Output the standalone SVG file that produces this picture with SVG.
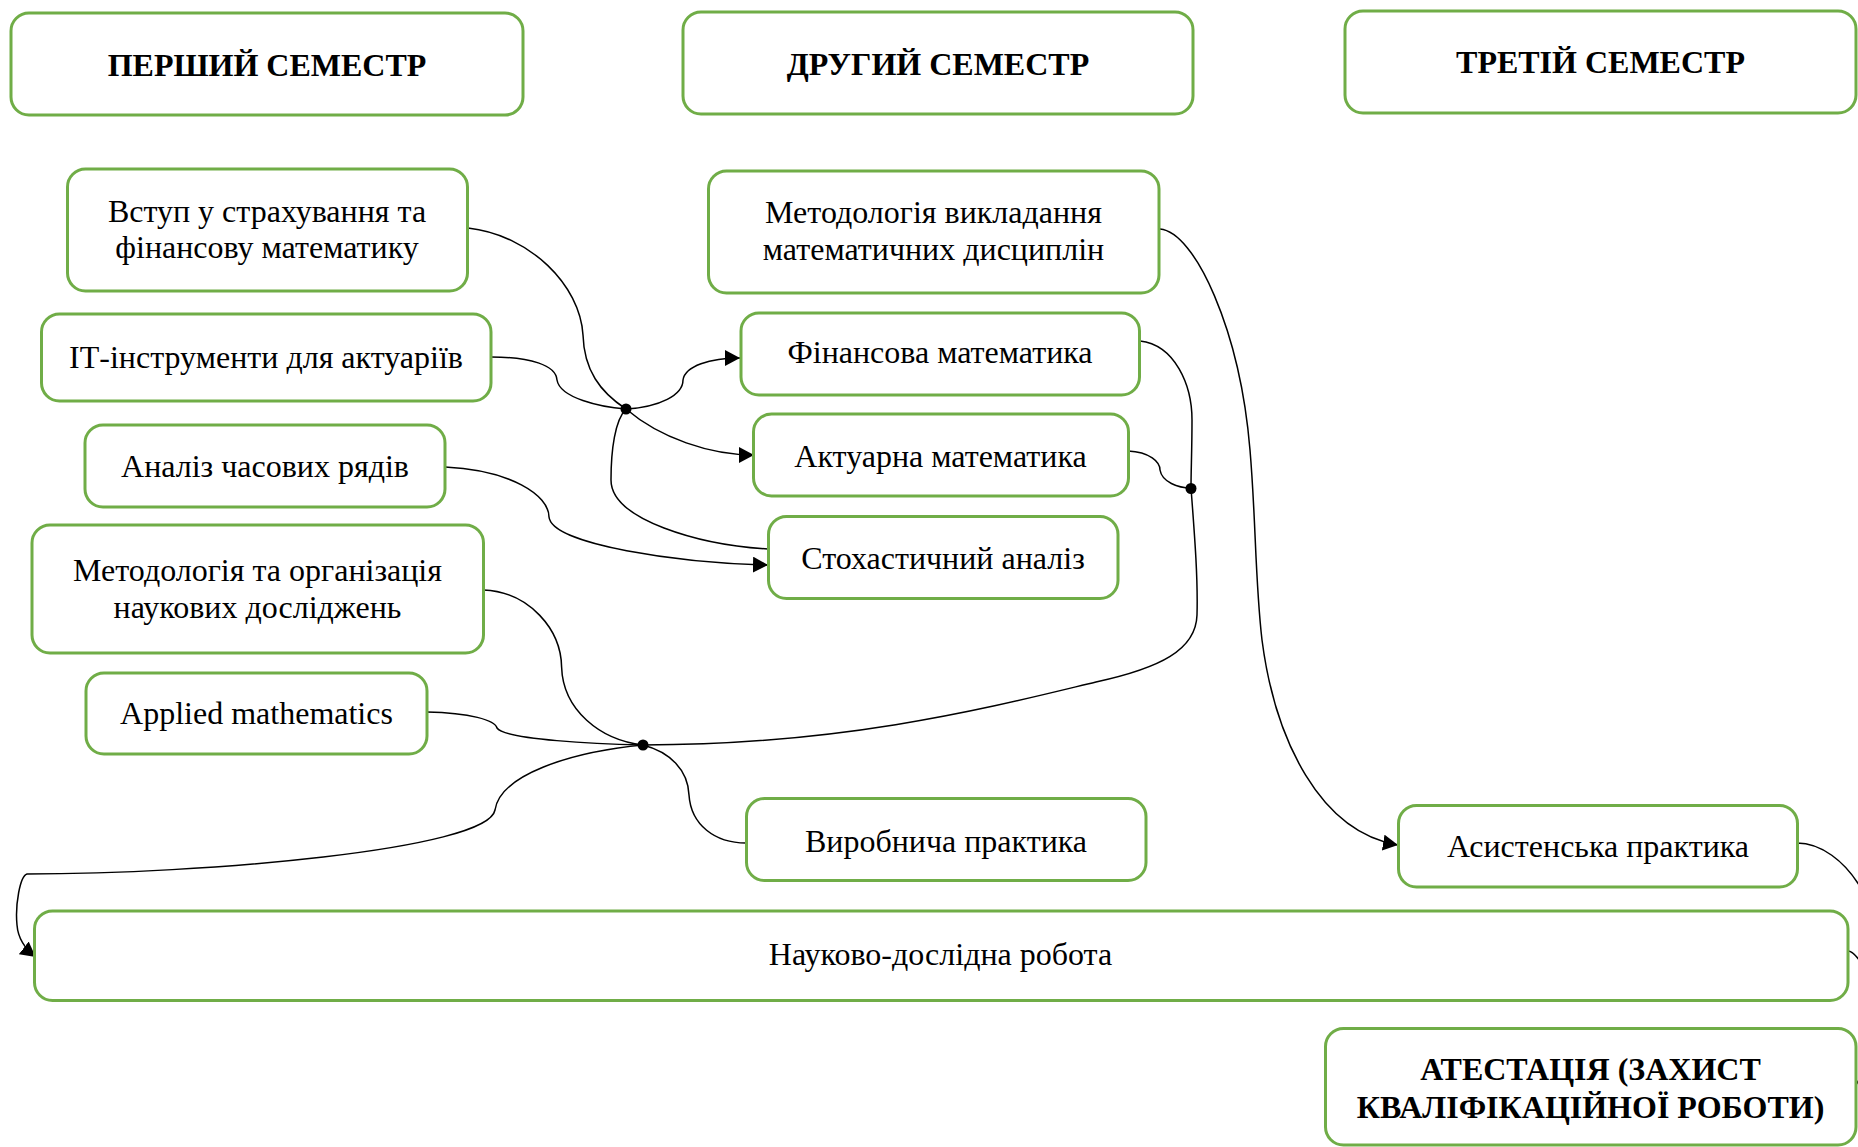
<svg xmlns="http://www.w3.org/2000/svg" width="1858" height="1147" viewBox="0 0 1858 1147">
<defs>
<style>
.box{fill:#fff;stroke:#70ad47;stroke-width:3}
.t{font-family:"Liberation Serif","Times New Roman",serif;font-size:32px;fill:#000;text-anchor:middle}
.h{font-family:"Liberation Serif","Times New Roman",serif;font-size:32px;font-weight:bold;fill:#000;text-anchor:middle}
.c{fill:none;stroke:#000;stroke-width:1.5}
.dot{fill:#000}
</style>
<marker id="arr" markerUnits="userSpaceOnUse" markerWidth="16" markerHeight="16" refX="15" refY="8" orient="auto">
<path d="M0,0 L15,8 L0,16 z" fill="#000"/>
</marker>
</defs>
<rect width="1858" height="1147" fill="#fff"/>
<g id="connectors">
<path class="c" d="M468,228 C530,235 580,285 583,335 C584,370 600,392 626,409"/>
<path class="c" d="M491,357 C530,357 556,365 557,380 C560,398 600,407 626,409"/>
<path class="c" marker-end="url(#arr)" d="M626,409 C660,407 683,395 683,380 C685,366 710,358 740,358"/>
<path class="c" marker-end="url(#arr)" d="M626,409 C660,438 710,455 754,455"/>
<path class="c" d="M768,549 C700,545 611,520 611,480 C611,450 615,420 626,409"/>
<path class="c" marker-end="url(#arr)" d="M445,467 C510,470 549,495 549,517 C552,545 680,563 768,565"/>
<path class="c" marker-end="url(#arr)" d="M1160,229 C1195,232 1240,330 1250,450 C1256,520 1255,580 1262,640 C1275,740 1320,832 1398,845"/>
<path class="c" d="M1140,341 C1175,345 1192,385 1192,420 C1192,450 1191,470 1191,488"/>
<path class="c" d="M1128,451 C1150,452 1160,462 1160,470 C1162,482 1178,488 1191,488"/>
<path class="c" d="M1191,488 C1195,540 1198,580 1197,615 C1196,650 1160,668 1096,682 C1000,705 850,745 643,745"/>
<path class="c" d="M483.5,590 C530,592 561,630 561.6,667 C563,710 600,740 643,745"/>
<path class="c" d="M427,712 C470,713 495,720 497,728 C505,740 600,744 643,745"/>
<path class="c" marker-end="url(#arr)" d="M643,745 C570,752 500,775 495,810 C488,850 200,874 27,874 C20,876 15,905 17,925 C18,938 24,948 35.7,957"/>
<path class="c" d="M643,745 C670,752 688,770 689,795 C691,825 715,843 746,843"/>
<path class="c" d="M1797,843 C1820,843 1845,860 1862,890"/>
<path class="c" d="M1848,951 C1852,951 1856,955 1862,964"/>
<path class="c" d="M1862,1075 L1856.5,1084"/>
<circle class="dot" cx="626" cy="409" r="5.5"/>
<circle class="dot" cx="643" cy="745" r="5.5"/>
<circle class="dot" cx="1191" cy="488.5" r="5.5"/>
</g>
<g id="n1"><rect class="box" x="11" y="13" width="512" height="102" rx="18"/><text class="h" x="267" y="76">ПЕРШИЙ СЕМЕСТР</text></g>
<g id="n2"><rect class="box" x="683" y="12" width="510" height="102" rx="18"/><text class="h" x="938" y="75">ДРУГИЙ СЕМЕСТР</text></g>
<g id="n3"><rect class="box" x="1345" y="11" width="511" height="102" rx="18"/><text class="h" x="1600.5" y="73">ТРЕТІЙ СЕМЕСТР</text></g>
<g id="n4"><rect class="box" x="67.5" y="169" width="400" height="122" rx="18"/><text class="t" x="267" y="222">Вступ у страхування та</text><text class="t" x="267" y="258">фінансову математику</text></g>
<g id="n5"><rect class="box" x="41.5" y="314" width="449.5" height="87" rx="18"/><text class="t" x="266" y="368">ІТ-інструменти для актуаріїв</text></g>
<g id="n6"><rect class="box" x="85" y="425" width="360" height="82" rx="18"/><text class="t" x="265" y="477">Аналіз часових рядів</text></g>
<g id="n7"><rect class="box" x="32" y="525" width="451.5" height="128" rx="18"/><text class="t" x="257.5" y="581">Методологія та організація</text><text class="t" x="257.5" y="618">наукових досліджень</text></g>
<g id="n8"><rect class="box" x="86" y="673" width="341" height="81" rx="18"/><text class="t" x="256.5" y="724">Applied mathematics</text></g>
<g id="n9"><rect class="box" x="708.5" y="171" width="450.5" height="122" rx="18"/><text class="t" x="933.5" y="223">Методологія викладання</text><text class="t" x="933.5" y="260">математичних дисциплін</text></g>
<g id="n10"><rect class="box" x="741" y="313" width="398.5" height="82" rx="18"/><text class="t" x="940" y="363">Фінансова математика</text></g>
<g id="n11"><rect class="box" x="753.5" y="414" width="375" height="82" rx="18"/><text class="t" x="940.5" y="467">Актуарна математика</text></g>
<g id="n12"><rect class="box" x="768.5" y="516.5" width="349.5" height="82" rx="18"/><text class="t" x="943" y="569">Стохастичний аналіз</text></g>
<g id="n13"><rect class="box" x="746.5" y="798.5" width="399.5" height="82" rx="18"/><text class="t" x="946" y="852">Виробнича практика</text></g>
<g id="n14"><rect class="box" x="1398.5" y="805.5" width="399" height="81.5" rx="18"/><text class="t" x="1598" y="857">Асистенська практика</text></g>
<g id="n15"><rect class="box" x="34.5" y="911" width="1813.5" height="89.5" rx="18"/><text class="t" x="940.5" y="965">Науково-дослідна робота</text></g>
<g id="n16"><rect class="box" x="1325.5" y="1028.5" width="530.5" height="116.5" rx="18"/><text class="h" x="1590.5" y="1080">АТЕСТАЦІЯ (ЗАХИСТ</text><text class="h" x="1590.5" y="1118">КВАЛІФІКАЦІЙНОЇ РОБОТИ)</text></g>
</svg>
